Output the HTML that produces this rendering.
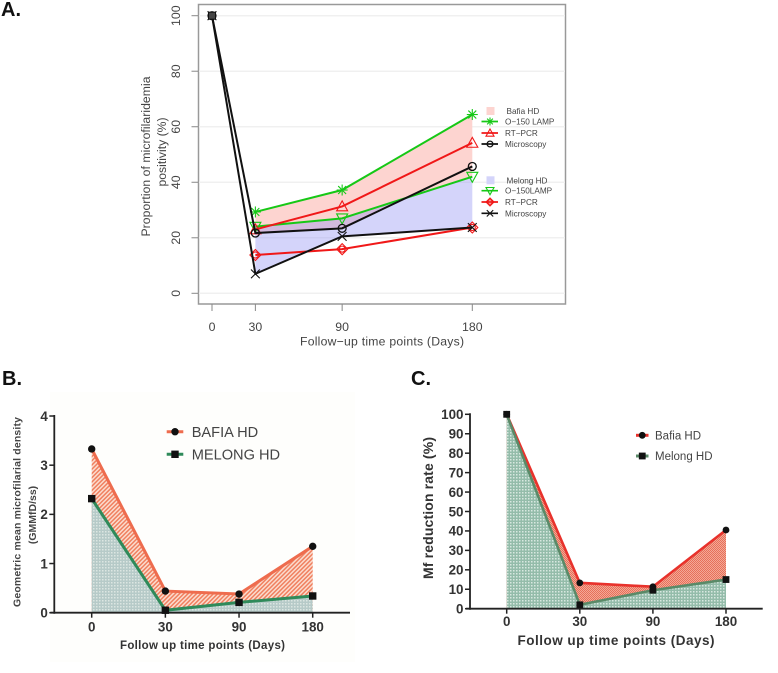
<!DOCTYPE html>
<html>
<head>
<meta charset="utf-8">
<title>Microfilaremia follow-up charts</title>
<style>
html,body{margin:0;padding:0;background:#fff;width:778px;height:673px;overflow:hidden}
svg{display:block;font-family:"Liberation Sans",sans-serif;filter:blur(.35px)}
</style>
</head>
<body>
<svg id="fig" width="778" height="673" viewBox="0 0 778 673" xmlns="http://www.w3.org/2000/svg">
<defs>
<pattern id="hatchOrange" patternUnits="userSpaceOnUse" width="3" height="3" patternTransform="rotate(45)">
<rect width="3" height="3" fill="#fbdccf"/><rect width="1.5" height="3" fill="#f0805f"/>
</pattern>
<pattern id="dotBlue" patternUnits="userSpaceOnUse" width="3" height="3">
<rect width="3" height="3" fill="#b6cac8"/><rect width="1.5" height="1.5" fill="#dce6e2"/>
</pattern>
<pattern id="dotRed" patternUnits="userSpaceOnUse" width="2" height="2">
<rect width="2" height="2" fill="#f4a896"/><rect width="1" height="1" fill="#e6705a"/><rect x="1" y="1" width="1" height="1" fill="#e6705a"/>
</pattern>
<pattern id="dotGreen" patternUnits="userSpaceOnUse" width="3" height="3">
<rect width="3" height="3" fill="#94bcaa"/><rect width="1.5" height="1.5" fill="#d8e8e0"/>
</pattern>
</defs>
<rect width="778" height="673" fill="#fff"/>
<rect x="50" y="392" width="305" height="270" fill="#fefefc"/>

<text x="1" y="16" font-size="20" font-weight="bold" fill="#111">A.</text>
<text x="2" y="385" font-size="20" font-weight="bold" fill="#111">B.</text>
<text x="411" y="385" font-size="20" font-weight="bold" fill="#111">C.</text>

<g id="chartA">
<rect x="198.5" y="4.5" width="367" height="299.5" fill="none" stroke="#999" stroke-width="1.5"/>
<text x="382" y="345.5" text-anchor="middle" font-size="12.2" fill="#444" textLength="164">Follow−up time points (Days)</text>
<text transform="translate(150,156.5) rotate(-90)" text-anchor="middle" font-size="12.2" fill="#444" textLength="160">Proportion of microfilaridemia</text>
<text transform="translate(166,152) rotate(-90)" text-anchor="middle" font-size="12.2" fill="#444">positivity (%)</text>
</g>
<g id="chartB">
<text x="202.5" y="649" text-anchor="middle" font-size="11.5" font-weight="bold" fill="#333" textLength="165">Follow up time points (Days)</text>
<text transform="translate(20.5,512) rotate(-90)" text-anchor="middle" font-size="10.5" font-weight="bold" fill="#444" textLength="190">Geometric mean microfilarial density</text>
<text transform="translate(36,515) rotate(-90)" text-anchor="middle" font-size="10.5" font-weight="bold" fill="#444">(GMMfD/ss)</text>
</g>
<g id="chartC">
<text x="616" y="645" text-anchor="middle" font-size="13.5" font-weight="bold" fill="#333" textLength="197">Follow up time points (Days)</text>
<text transform="translate(433,508) rotate(-90)" text-anchor="middle" font-size="14" font-weight="bold" fill="#333" textLength="142">Mf reduction rate (%)</text>
</g>
</svg>
<script>
const daysA = [0, 30, 90, 180];
const ticksYA = [0, 20, 40, 60, 80, 100];
const bafiaLamp = [null, 29.3, 37.2, 64.4];
const bafiaPcr = [null, 23, 31.3, 54.2];
const bafiaMicro = [100, 21.7, 23.4, 45.7];
const melongLamp = [null, 24, 27, 42];
const melongPcr = [null, 13.8, 15.9, 23.7];
const melongMicro = [100, 7, 20.5, 23.7];

const labelsB = ['0', '30', '90', '180'];
const ticksYB = [0, 1, 2, 3, 4];
const bafiaDensity = [3.33, 0.44, 0.38, 1.35];
const melongDensity = [2.32, 0.05, 0.21, 0.34];

const labelsC = ['0', '30', '90', '180'];
const ticksYC = [0, 10, 20, 30, 40, 50, 60, 70, 80, 90, 100];
const bafiaReduction = [100, 13.3, 11.3, 40.5];
const melongReduction = [100, 2, 9.5, 15];

const NS = 'http://www.w3.org/2000/svg';
function mk(tag, attrs, parent) {
  const el = document.createElementNS(NS, tag);
  for (const k in attrs) el.setAttribute(k, attrs[k]);
  parent.appendChild(el);
  return el;
}
function pts(list) { return list.map(p => p[0].toFixed(2) + ',' + p[1].toFixed(2)).join(' '); }

/* ---------- Chart A ---------- */
const gA = document.getElementById('chartA');
const xA = d => 212 + d * 1.4461;
const yA = v => 293.3 - v * 2.776;

ticksYA.forEach(t => {
  const y = yA(t);
  const grid = mk('line', {x1: 199, x2: 565, y1: y, y2: y, stroke: '#f0f0f0', 'stroke-width': 1.5}, gA);
  
  
  const tick = mk('line', {x1: 191.5, x2: 198, y1: y, y2: y, stroke: '#888', 'stroke-width': 1}, gA);
  
  
  const lab = mk('text', {transform: 'translate(180,' + y + ') rotate(-90)', 'text-anchor': 'middle', 'font-size': 12.3, fill: '#444'}, gA);
  lab.textContent = t;
  
  
});
daysA.forEach(d => {
  const x = xA(d);
  const tick = mk('line', {x1: x, x2: x, y1: 304, y2: 311, stroke: '#888', 'stroke-width': 1}, gA);
  
  
  const lab = mk('text', {x: x, y: 331, 'text-anchor': 'middle', 'font-size': 12.3, fill: '#444'}, gA);
  lab.textContent = d;
  
  
});

/* bands */
(function () {
  const m0 = bafiaMicro[2], m1 = bafiaMicro[3], l0 = melongLamp[2], l1 = melongLamp[3];
  const denom = (l1 - l0) - (m1 - m0);
  let t = denom !== 0 ? (m0 - l0) / denom : 1;
  t = Math.max(0, Math.min(1, t));
  const crossD = daysA[2] + t * (daysA[3] - daysA[2]);
  const crossV = m0 + t * (m1 - m0);
  const upper = [1, 2, 3].map(i => [xA(daysA[i]), yA(bafiaLamp[i])]);
  const lower = [[xA(daysA[3]), yA(l1)], [xA(crossD), yA(crossV)], [xA(daysA[2]), yA(m0)], [xA(daysA[1]), yA(bafiaMicro[1])]];
  const pink = mk('polygon', {points: pts(upper.concat(lower)), fill: '#fdd4d0'}, gA);
  
  
  const top = [1, 2, 3].map(i => [xA(daysA[i]), yA(melongLamp[i])]);
  const bot = [3, 2, 1].map(i => [xA(daysA[i]), yA(melongMicro[i])]);
  const blue = mk('polygon', {points: pts(top.concat(bot)), fill: '#9393f2', 'fill-opacity': 0.4}, gA);
  
  
})();

function glyph(kind, x, y, color, parent, r) {
  const g = mk('g', {fill: 'none', stroke: color, 'stroke-width': 1.1}, parent);
  if (kind === 'star') {
    [[r, 0], [0, r], [r * .72, r * .72], [r * .72, -r * .72]].forEach(v => {
      mk('line', {x1: x - v[0], y1: y - v[1], x2: x + v[0], y2: y + v[1]}, g);
    });
  } else if (kind === 'up') {
    mk('polygon', {points: pts([[x, y - r], [x + r, y + r * .8], [x - r, y + r * .8]])}, g);
  } else if (kind === 'down') {
    mk('polygon', {points: pts([[x, y + r], [x + r, y - r * .8], [x - r, y - r * .8]])}, g);
  } else if (kind === 'circle') {
    mk('circle', {cx: x, cy: y, r: r * .72, 'stroke-width': 1.3}, g);
  } else if (kind === 'diamond') {
    mk('polygon', {points: pts([[x, y - r], [x + r, y], [x, y + r], [x - r, y]])}, g);
    mk('circle', {cx: x, cy: y, r: r * .55}, g);
  } else if (kind === 'x') {
    mk('line', {x1: x - r * .8, y1: y - r * .8, x2: x + r * .8, y2: y + r * .8}, g);
    mk('line', {x1: x - r * .8, y1: y + r * .8, x2: x + r * .8, y2: y - r * .8}, g);
  }
  return g;
}
function seriesA(name, values, color, kind) {
  const g = mk('g', {}, gA);
  
  
  const p = [];
  values.forEach((v, i) => { if (v !== null) p.push([xA(daysA[i]), yA(v)]); });
  mk('polyline', {points: pts(p), fill: 'none', stroke: color, 'stroke-width': 2}, g);
  p.forEach(q => { glyph(kind, q[0], q[1], color, g, 5.5); });
}
seriesA('bafia-lamp-series', bafiaLamp, '#16c816', 'star');
seriesA('melong-lamp-series', melongLamp, '#16c816', 'down');
seriesA('bafia-pcr-series', bafiaPcr, '#f01818', 'up');
seriesA('melong-pcr-series', melongPcr, '#f01818', 'diamond');
seriesA('bafia-microscopy-series', bafiaMicro, '#111', 'circle');
seriesA('melong-microscopy-series', melongMicro, '#111', 'x');
const startMark = mk('rect', {x: xA(daysA[0]) - 3.5, y: yA(100) - 3.5, width: 7, height: 7, fill: '#444', stroke: '#111', 'stroke-width': 1}, gA);



function swatchA(name, label, y, color) {
  const s = mk('rect', {x: 486.5, y: y - 4, width: 8, height: 8, fill: color}, gA);
  
  
  const t = mk('text', {x: 506.5, y: y + 3, 'font-size': 8.2, fill: '#444'}, gA);
  t.textContent = label;
  
  
}
function legendA(name, label, y, color, kind) {
  const g = mk('g', {}, gA);
  
  
  mk('line', {x1: 481.5, x2: 498, y1: y, y2: y, stroke: color, 'stroke-width': 1.7}, g);
  glyph(kind, 490, y, color, g, 4);
  const t = mk('text', {x: 505, y: y + 3, 'font-size': 8.2, fill: '#444'}, g);
  t.textContent = label;
}
swatchA('legend-bafia-hd', 'Bafia HD', 111, '#fdd4d0');
legendA('legend-bafia-lamp', 'O−150 LAMP', 121.5, '#16c816', 'star');
legendA('legend-bafia-pcr', 'RT−PCR', 133, '#f01818', 'up');
legendA('legend-bafia-microscopy', 'Microscopy', 144, '#111', 'circle');
swatchA('legend-melong-hd', 'Melong HD', 180.3, '#d4d4fa');
legendA('legend-melong-lamp', 'O−150LAMP', 190.7, '#16c816', 'down');
legendA('legend-melong-pcr', 'RT−PCR', 202, '#f01818', 'diamond');
legendA('legend-melong-microscopy', 'Microscopy', 213.3, '#111', 'x');

/* ---------- Shared for B and C ---------- */
function prismChart(cfg) {
  const g = cfg.root;
  const base = cfg.y(0);
  const n = cfg.labels.length;
  const areaOf = vals => pts(vals.map((v, i) => [cfg.x(i), cfg.y(v)]).concat([[cfg.x(n - 1), base], [cfg.x(0), base]]));
  const a1 = mk('polygon', {points: areaOf(cfg.top), fill: cfg.topFill}, g);
  
  
  const a2 = mk('polygon', {points: areaOf(cfg.bottom), fill: cfg.botFill}, g);
  
  

  const yAxis = mk('line', {x1: cfg.axisX, x2: cfg.axisX, y1: cfg.y(cfg.ticks[cfg.ticks.length - 1]) - 1, y2: base + 1, stroke: '#222', 'stroke-width': 1.8}, g);
  
  
  const xAxis = mk('line', {x1: cfg.axisX - 4, x2: cfg.axisEnd, y1: base, y2: base, stroke: '#222', 'stroke-width': 1.8}, g);
  
  

  cfg.ticks.forEach(t => {
    const y = cfg.y(t);
    const tk = mk('line', {x1: cfg.axisX - 5, x2: cfg.axisX, y1: y, y2: y, stroke: '#222', 'stroke-width': 1.5}, g);
    
    
    const lb = mk('text', {x: cfg.axisX - 6.5, y: y + 4.8, 'text-anchor': 'end', 'font-size': 13.4, 'font-weight': 'bold', fill: '#333'}, g);
    lb.textContent = t;
    
    
  });
  cfg.labels.forEach((l, i) => {
    const x = cfg.x(i);
    const tk = mk('line', {x1: x, x2: x, y1: base, y2: base + 5, stroke: '#222', 'stroke-width': 1.5}, g);
    
    
    const lb = mk('text', {x: x, y: cfg.labelY, 'text-anchor': 'middle', 'font-size': 13.4, 'font-weight': 'bold', fill: '#333'}, g);
    lb.textContent = l;
    
    
  });

  function draw(name, vals, color, square) {
    const s = mk('g', {}, g);
    
    
    mk('polyline', {points: pts(vals.map((v, i) => [cfg.x(i), cfg.y(v)])), fill: 'none', stroke: color, 'stroke-width': cfg.lineW}, s);
    vals.forEach((v, i) => {
      if (square) mk('rect', {x: cfg.x(i) - cfg.mark, y: cfg.y(v) - cfg.mark, width: cfg.mark * 2, height: cfg.mark * 2, fill: '#111'}, s);
      else mk('circle', {cx: cfg.x(i), cy: cfg.y(v), r: cfg.mark, fill: '#111'}, s);
    });
  }
  draw('bafia', cfg.top, cfg.topColor, false);
  draw('melong', cfg.bottom, cfg.botColor, true);

  cfg.legend.forEach(e => {
    const lg = mk('g', {}, g);
    
    
    mk('line', {x1: cfg.legX1, x2: cfg.legX2, y1: e.y, y2: e.y, stroke: e.color, 'stroke-width': cfg.legW}, lg);
    const mx = (cfg.legX1 + cfg.legX2) / 2;
    if (e.square) mk('rect', {x: mx - cfg.mark, y: e.y - cfg.mark, width: cfg.mark * 2, height: cfg.mark * 2, fill: '#111'}, lg);
    else mk('circle', {cx: mx, cy: e.y, r: cfg.mark, fill: '#111'}, lg);
    const t = mk('text', {x: cfg.legText, y: e.y + cfg.legFont * .36, 'font-size': cfg.legFont, fill: '#444'}, lg);
    t.textContent = e.label;
  });
}

prismChart({
  id: 'chart-b', root: document.getElementById('chartB'),
  x: i => 91.7 + i * 73.67, y: v => 612.7 - v * 49.17,
  labels: labelsB, ticks: ticksYB, top: bafiaDensity, bottom: melongDensity,
  topFill: 'url(#hatchOrange)', botFill: 'url(#dotBlue)',
  topColor: '#ee6c4e', botColor: '#2f8a5a', lineW: 3, mark: 3.7,
  axisX: 54.3, axisEnd: 350, labelY: 631.5,
  legX1: 166.7, legX2: 183.3, legW: 3, legText: 191.7, legFont: 14.6,
  legend: [
    {key: 'bafia', label: 'BAFIA HD', y: 431.7, color: '#ee6c4e', square: false},
    {key: 'melong', label: 'MELONG HD', y: 454.3, color: '#2f8a5a', square: true}
  ]
});
prismChart({
  id: 'chart-c', root: document.getElementById('chartC'),
  x: i => 506.7 + i * 73.1, y: v => 608.7 - v * 1.944,
  labels: labelsC, ticks: ticksYC, top: bafiaReduction, bottom: melongReduction,
  topFill: 'url(#dotRed)', botFill: 'url(#dotGreen)',
  topColor: '#e8322c', botColor: '#5a8a68', lineW: 2.6, mark: 3.4,
  axisX: 470, axisEnd: 762.7, labelY: 626,
  legX1: 636, legX2: 648.5, legW: 3, legText: 655, legFont: 11.5,
  legend: [
    {key: 'bafia', label: 'Bafia HD', y: 435.3, color: '#e8322c', square: false},
    {key: 'melong', label: 'Melong HD', y: 456, color: '#5a8a68', square: true}
  ]
});
</script>
</body>
</html>
